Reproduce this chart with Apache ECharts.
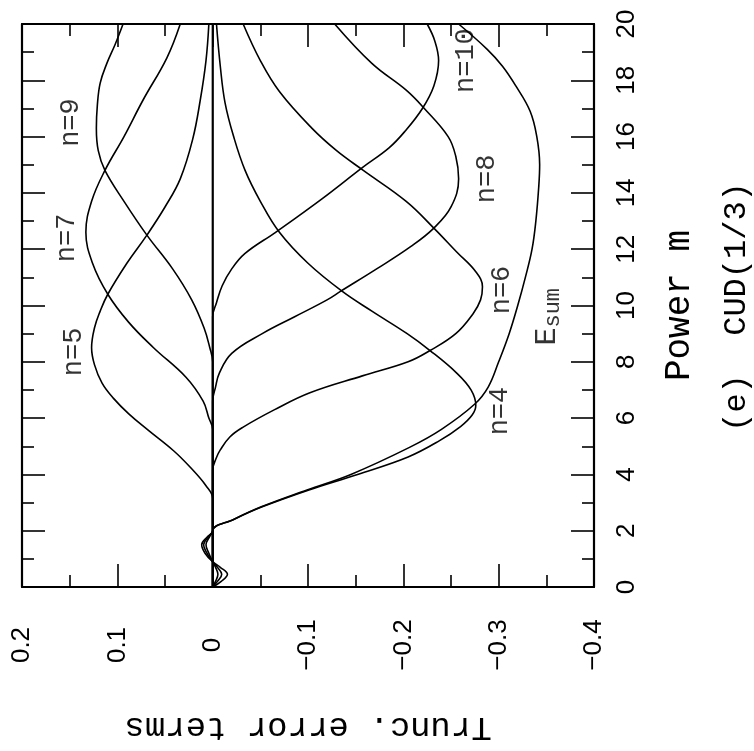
<!DOCTYPE html>
<html>
<head>
<meta charset="utf-8">
<script src="https://cdn.jsdelivr.net/npm/echarts@6/dist/echarts.min.js"></script>
<style>
    html, body { margin: 0; padding: 0; background: #fff; }
    #main { width: 754px; height: 751px; }
</style>
</head>
<body>
<div id="main"></div>
<script>
// the figure is printed turned a quarter: power m runs up the page, error terms run right-to-left
// every curve is a list of [m, error] pairs

var n1 = [[0, 0], [0.2, -0.003], [0.45, -0.0055], [0.7, -0.003], [0.9, 0], [1.2, 0.004], [1.5, 0.007], [1.8, 0.003], [2.0, 0], [20, 0]];
var n2 = [[0, 0], [0.2, -0.005], [0.45, -0.0095], [0.7, -0.005], [0.9, 0], [1.2, 0.006], [1.5, 0.0095], [1.8, 0.004], [2.0, 0], [20, 0]];
var n3 = [[0, 0], [0.2, -0.009], [0.45, -0.0155], [0.7, -0.008], [0.9, 0], [1.2, 0.008], [1.5, 0.0115], [1.8, 0.005], [2.0, 0], [20, 0]];

var n4 = [[0, 0], [1.6, 0], [2.0, 0], [2.4, -0.022], [2.85, -0.052], [3.45, -0.101], [4.0, -0.152], [4.62, -0.205],
    [5.2, -0.238], [5.7, -0.260], [6.1, -0.272], [6.45, -0.276], [7.0, -0.271], [7.6, -0.256], [8.4, -0.228],
    [9.0, -0.204], [9.8, -0.167], [10.5, -0.136], [11.5, -0.100], [12.6, -0.070], [13.7, -0.050], [14.8, -0.034],
    [16.0, -0.022], [17.2, -0.013], [18.5, -0.008], [20, -0.004]];
var n5 = [[0, 0], [2.7, 0], [3.15, 0], [3.6, 0.007], [4.27, 0.024], [4.84, 0.041], [5.58, 0.068], [6.15, 0.088],
    [6.7, 0.104], [7.24, 0.116], [7.9, 0.124], [8.5, 0.127], [9.2, 0.124], [9.8, 0.118], [10.4, 0.110], [11.5, 0.090],
    [12.5, 0.069], [13.5, 0.050], [14.5, 0.034], [15.9, 0.021], [17.3, 0.013], [18.7, 0.007], [20, 0.004]];
var n6 = [[0, 0], [3.6, 0], [4.15, 0], [4.6, -0.004], [4.87, -0.008], [5.33, -0.018], [5.68, -0.032], [6.3, -0.065],
    [6.9, -0.102], [7.5, -0.157], [8.0, -0.205], [8.4, -0.228], [9.0, -0.255], [9.7, -0.273], [10.2, -0.281],
    [10.67, -0.283], [11.2, -0.276], [11.9, -0.256], [12.75, -0.232], [13.7, -0.203], [14.8, -0.158], [15.5, -0.130],
    [16.3, -0.104], [17.6, -0.070], [18.7, -0.050], [20, -0.032]];
var n7 = [[0, 0], [5.0, 0], [5.6, 0], [6.0, 0.004], [6.6, 0.010], [7.45, 0.028], [8.5, 0.062], [9.4, 0.088],
    [10.4, 0.110], [11.5, 0.126], [12.6, 0.133], [13.7, 0.127], [14.8, 0.113], [16.0, 0.093], [17.3, 0.073],
    [18.8, 0.048], [20, 0.034]];
var n8 = [[0, 0], [6.0, 0], [6.6, 0], [7.1, -0.003], [7.6, -0.007], [8.3, -0.020], [9.0, -0.052], [9.6, -0.086],
    [10.2, -0.120], [10.5, -0.134], [11.3, -0.172], [12.1, -0.208], [12.75, -0.232], [13.5, -0.250], [14.5, -0.258],
    [15.3, -0.255], [16.0, -0.247], [17.0, -0.222], [17.65, -0.203], [18.6, -0.167], [20, -0.128]];
var n9 = [[0, 0], [7.4, 0], [8.0, 0], [8.5, 0.003], [9.2, 0.009], [10.2, 0.022], [11.3, 0.042], [12.5, 0.069],
    [13.7, 0.093], [14.8, 0.113], [15.5, 0.120], [16.3, 0.122], [17.1, 0.121], [17.9, 0.118], [18.6, 0.111],
    [19.3, 0.102], [20, 0.094]];
var n10 = [[0, 0], [9.0, 0], [9.6, 0], [10.1, -0.004], [10.7, -0.010], [11.3, -0.020], [11.85, -0.034], [12.6, -0.066],
    [13.8, -0.115], [14.9, -0.157], [15.6, -0.185], [16.2, -0.202], [17.0, -0.220], [17.8, -0.232], [18.7, -0.237],
    [19.4, -0.233], [20, -0.225]];
var esum = [[0, 0], [1.6, 0], [2.0, 0], [2.4, -0.022], [2.85, -0.051], [3.45, -0.099], [4.0, -0.145], [4.97, -0.207],
    [5.6, -0.240], [6.5, -0.275], [7.1, -0.289], [8.0, -0.300], [9.0, -0.311], [10.0, -0.320], [11.0, -0.328],
    [12.0, -0.335], [13.0, -0.339], [14.2, -0.342], [15.0, -0.343], [16.0, -0.340], [16.9, -0.333], [17.8, -0.318],
    [18.5, -0.304], [19.1, -0.288], [20, -0.258]];

var curveNames = ['n=1', 'n=2', 'n=3', 'n=4', 'n=5', 'n=6', 'n=7', 'n=8', 'n=9', 'n=10', 'Esum'];
var curves = [n1, n2, n3, n4, n5, n6, n7, n8, n9, n10, esum];

// curve tags: text and where they sit, as [m, error]
var tagTexts = ['n=5', 'n=7', 'n=9', 'n=4', 'n=6', 'n=8', 'n=10', 'Esum'];
var tagPlaces = [[8.35, 0.146], [12.4, 0.153], [16.5, 0.149], [6.25, -0.301], [10.55, -0.303], [14.5, -0.288], [18.7, -0.266], [9.6, -0.351]];

var errMin = -0.4, errMax = 0.2, errStep = 0.1;
var powMin = 0, powMax = 20, powStep = 2;

var myChart = echarts.init(document.getElementById('main'), null, {renderer: 'canvas'});

function flip(arr) {
    return arr.map(function (p) { return [p[1], p[0]]; });
}

var black = '#000';
var lineStyle = {color: black, width: 2.2};
var tickStyle = {color: black, width: 1.6};

function errAxis(pos, withText) {
    var ax = {
        type: 'value',
        position: pos,
        min: errMin,
        max: errMax,
        interval: errStep,
        inverse: true,
        axisLine: {show: true, onZero: false, lineStyle: lineStyle},
        axisTick: {show: true, inside: true, length: 23, lineStyle: tickStyle},
        minorTick: {show: true, splitNumber: 2, length: 12, lineStyle: tickStyle},
        splitLine: {show: false},
        minorSplitLine: {show: false},
        axisLabel: {show: false}
    };
    if (withText) {
        ax.axisLabel = {
            show: true,
            rotate: 90,
            margin: 58,
            align: 'center',
            verticalAlign: 'middle',
            showMinLabel: true,
            showMaxLabel: true,
            color: black,
            fontFamily: 'Liberation Sans',
            fontSize: 26,
            formatter: function (v) {
                return String(Math.round(v * 10) / 10).replace('-', '\u2212');
            }
        };
        ax.name = 'Trunc. error terms';
        ax.nameLocation = 'middle';
        ax.nameGap = 140;
        ax.nameRotate = 180;
        ax.nameMoveOverlap = false;
        ax.nameTextStyle = {color: black, fontFamily: 'Liberation Mono', fontSize: 34, align: 'center', verticalAlign: 'middle'};
    }
    return ax;
}

function powAxis(pos, withText) {
    var ax = {
        type: 'value',
        position: pos,
        min: powMin,
        max: powMax,
        interval: powStep,
        axisLine: {show: true, onZero: false, lineStyle: lineStyle},
        axisTick: {show: true, inside: true, length: 23, lineStyle: tickStyle},
        minorTick: {show: true, splitNumber: 2, length: 12, lineStyle: tickStyle},
        splitLine: {show: false},
        minorSplitLine: {show: false},
        axisLabel: {show: false}
    };
    if (withText) {
        ax.axisLabel = {
            show: true,
            rotate: 90,
            margin: 33,
            align: 'center',
            verticalAlign: 'middle',
            showMinLabel: true,
            showMaxLabel: true,
            color: black,
            fontFamily: 'Liberation Sans',
            fontSize: 26
        };
        ax.name = 'Power m';
        ax.nameLocation = 'middle';
        ax.nameGap = 85;
        ax.nameRotate = 90;
        ax.nameMoveOverlap = false;
        ax.nameTextStyle = {color: black, fontFamily: 'Liberation Mono', fontSize: 36, align: 'center', verticalAlign: 'middle'};
    }
    return ax;
}

var series = [];
for (var i = 0; i < curves.length; i++) {
    series.push({
        name: curveNames[i],
        type: 'line',
        xAxisIndex: 0,
        yAxisIndex: 0,
        data: flip(curves[i]),
        showSymbol: false,
        smooth: 0.4,
        lineStyle: {color: black, width: 1.6},
        silent: true,
        z: 2
    });
}

var tagData = [];
for (var j = 0; j < tagTexts.length; j++) {
    var item = {name: tagTexts[j], value: [tagPlaces[j][1], tagPlaces[j][0]]};
    if (tagTexts[j] === 'Esum') {
        item.label = {
            formatter: '{e|E}{s|sum}',
            rich: {
                e: {fontFamily: 'Liberation Mono', fontSize: 30, color: black, lineHeight: 30, verticalAlign: 'top'},
                s: {fontFamily: 'Liberation Mono', fontSize: 22, color: black, lineHeight: 22, padding: [10, 0, 0, 0], verticalAlign: 'top'}
            }
        };
    }
    tagData.push(item);
}
series.push({
    type: 'scatter',
    xAxisIndex: 0,
    yAxisIndex: 0,
    symbolSize: 1,
    itemStyle: {color: 'rgba(0,0,0,0)'},
    data: tagData,
    silent: true,
    label: {
        show: true,
        position: 'inside',
        rotate: 90,
        formatter: '{b}',
        color: black,
        fontFamily: 'Liberation Mono',
        fontSize: 27
    },
    z: 3
});

var option = {
    animation: false,
    backgroundColor: '#fff',
    grid: {left: 22, right: 160, top: 24, bottom: 164, containLabel: false, outerBoundsMode: 'none'},
    xAxis: [errAxis('bottom', true), errAxis('top', false)],
    yAxis: [powAxis('right', true), powAxis('left', false)],
    graphic: [{
        type: 'text',
        x: 737,
        y: 307,
        rotation: Math.PI / 2,
        style: {
            text: '(e)  CUD(1/3)',
            fill: black,
            fontFamily: 'Liberation Mono',
            fontSize: 32,
            align: 'center',
            verticalAlign: 'middle'
        }
    }],
    series: series
};

myChart.setOption(option);
</script>
</body>
</html>
